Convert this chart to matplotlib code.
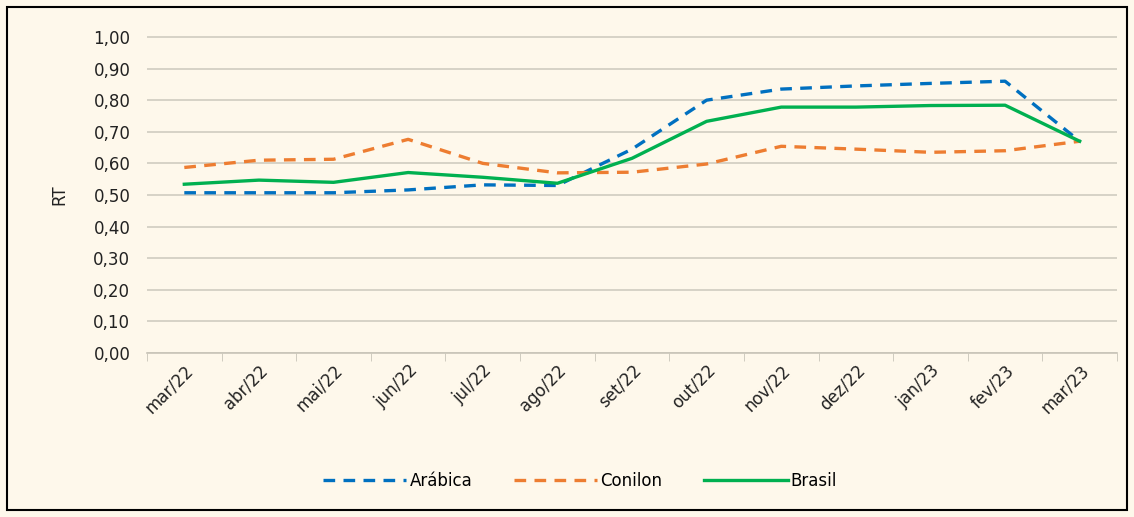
import matplotlib.pyplot as plt
from matplotlib.patches import Rectangle
from matplotlib.ticker import FuncFormatter, FixedLocator

months = ['mar/22', 'abr/22', 'mai/22', 'jun/22', 'jul/22', 'ago/22', 'set/22',
          'out/22', 'nov/22', 'dez/22', 'jan/23', 'fev/23', 'mar/23']
arabica = [0.507, 0.507, 0.507, 0.516, 0.532, 0.530, 0.645, 0.800, 0.835, 0.845, 0.853, 0.860, 0.670]
conilon = [0.587, 0.610, 0.613, 0.676, 0.600, 0.570, 0.572, 0.598, 0.654, 0.645, 0.635, 0.640, 0.670]
brasil = [0.534, 0.547, 0.540, 0.571, 0.556, 0.537, 0.616, 0.733, 0.778, 0.778, 0.783, 0.784, 0.670]

bg = '#FEF8EB'
plt.rcParams['font.family'] = 'DejaVu Sans'

fig = plt.figure(figsize=(11.34, 5.17), dpi=100, facecolor=bg)
ax = fig.add_axes([147 / 1134, 1 - 353 / 517, (1117 - 147) / 1134, (353 - 36) / 517])
ax.set_facecolor(bg)

x = range(len(months))
ax.plot(x, arabica, color='#0070C0', lw=2.4, ls=(0, (3.5, 2.5)), label='Arábica')
ax.plot(x, conilon, color='#ED7D31', lw=2.4, ls=(0, (3.5, 2.5)), label='Conilon')
ax.plot(x, brasil, color='#00B050', lw=2.4, label='Brasil')

ax.set_xlim(-0.5, len(months) - 0.5)
ax.set_ylim(0, 1.003)
ax.set_yticks([i / 10 for i in range(11)])
ax.yaxis.set_major_formatter(FuncFormatter(lambda v, p: f'{v:.2f}'.replace('.', ',')))
ax.grid(axis='y', color='#D0CCC0', lw=1.2)
ax.set_axisbelow(True)

ax.set_xticks(list(x))
ax.set_xticklabels(months, rotation=45, ha='right', rotation_mode='anchor')
ax.xaxis.set_minor_locator(FixedLocator([i - 0.5 for i in range(len(months) + 1)]))
ax.tick_params(axis='x', which='major', length=0, pad=6, labelsize=12, labelcolor='#222222')
ax.tick_params(axis='x', which='minor', length=6, color='#C8C4B8')
ax.tick_params(axis='y', length=0, pad=12, labelsize=12, labelcolor='#222222')

for s in ['top', 'right', 'left']:
    ax.spines[s].set_visible(False)
ax.spines['bottom'].set_color('#C8C4B8')
ax.spines['bottom'].set_linewidth(1.2)

ax.set_ylabel('RT', fontsize=12, color='#222222', labelpad=18)

fig.legend(loc='center', bbox_to_anchor=(580 / 1134, 1 - 481 / 517), ncol=3, frameon=False,
           fontsize=12, handlelength=5, columnspacing=2.5, handletextpad=0.2)

fig.patches.append(Rectangle((7 / 1134, 1 - 510 / 517), 1120 / 1134, 503 / 517,
                             transform=fig.transFigure, fill=False, ec='black', lw=1.5))

fig.savefig('out.png', dpi=100, facecolor=bg)
